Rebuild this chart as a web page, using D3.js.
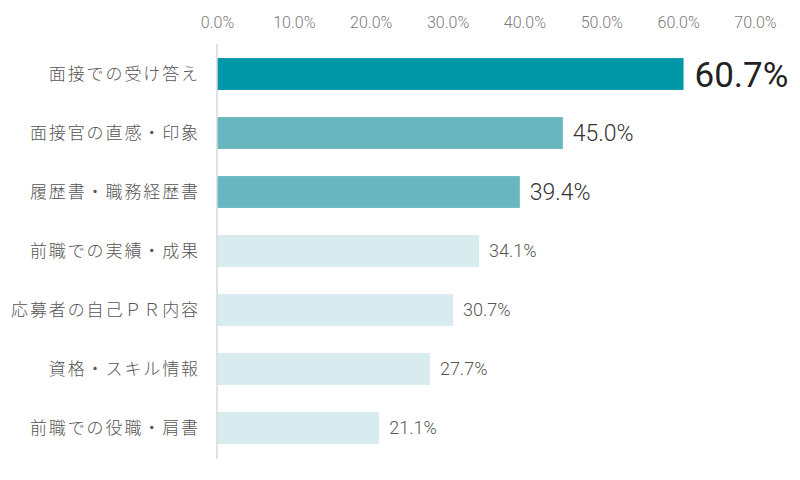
<!DOCTYPE html>
<html>
<head>
<meta charset="utf-8">
<script src="https://cdn.jsdelivr.net/npm/d3@7"></script>
<style>
  body { margin: 0; background: #fff; }
  svg { display: block; }
  .tick text { font-family: Roboto, "Noto Sans CJK JP", sans-serif; font-weight: 300; }
</style>
</head>
<body>
<svg id="vis" width="800" height="480"></svg>
<script>
// categories and values (%)
var categories = ["面接での受け答え", "面接官の直感・印象", "履歴書・職務経歴書", "前職での実績・成果",
    "応募者の自己ＰＲ内容", "資格・スキル情報", "前職での役職・肩書"];
var values = [60.7, 45.0, 39.4, 34.1, 30.7, 27.7, 21.1];
var tickValues = [0, 10, 20, 30, 40, 50, 60, 70];

var svg = d3.select("#vis");

var x = d3.scaleLinear().domain([0, 70]).range([217, 755]);
var y = d3.scaleBand().domain(categories).range([44.5, 457.5])
    .paddingInner(0.46).paddingOuter(0.23);

function barColor(i) {
    if (i === 0) return "#0097a6";
    if (i < 3) return "#68b6c0";
    return "#d8ebee";
}

// top axis
var axis = svg.append("g")
    .attr("transform", "translate(0,28)")
    .call(d3.axisTop(x).tickValues(tickValues).tickSize(0).tickPadding(0)
        .tickFormat(function(d) { return d3.format(".1f")(d) + "%"; }));
axis.select(".domain").remove();
axis.selectAll("text")
    .attr("fill", "#7a7a7a")
    .attr("font-size", 16);

// bars
svg.append("g").selectAll("rect")
    .data(values)
    .enter().append("rect")
    .attr("x", x(0))
    .attr("y", function(d, i) { return y(categories[i]); })
    .attr("width", function(d) { return x(d) - x(0); })
    .attr("height", y.bandwidth())
    .attr("fill", function(d, i) { return barColor(i); });

// vertical baseline
svg.append("line")
    .attr("x1", x(0)).attr("x2", x(0))
    .attr("y1", 44).attr("y2", 459)
    .attr("stroke", "#d9d9d9")
    .attr("stroke-width", 1.5);

// category labels
svg.append("g").selectAll("text")
    .data(categories)
    .enter().append("text")
    .attr("x", 200)
    .attr("y", function(d) { return y(d) + y.bandwidth() / 2; })
    .attr("dy", "0.35em")
    .attr("text-anchor", "end")
    .attr("font-family", "'Noto Sans CJK JP', sans-serif")
    .attr("font-weight", 300)
    .attr("font-size", 17)
    .attr("letter-spacing", 1.9)
    .attr("fill", "#555")
    .text(function(d) { return d; });

// value labels
svg.append("g").selectAll("text")
    .data(values)
    .enter().append("text")
    .attr("x", function(d, i) { return x(d) + (i === 0 ? 11 : 10); })
    .attr("y", function(d, i) { return y(categories[i]) + y.bandwidth() / 2; })
    .attr("dy", "0.36em")
    .attr("font-family", "Roboto, sans-serif")
    .attr("font-weight", function(d, i) { return i === 0 ? 400 : 300; })
    .attr("font-size", function(d, i) { return i === 0 ? 35 : (i < 3 ? 23 : 18); })
    .attr("fill", function(d, i) { return i === 0 ? "#222" : (i < 3 ? "#333" : "#555"); })
    .text(function(d) { return d.toFixed(1) + "%"; });
</script>
</body>
</html>
